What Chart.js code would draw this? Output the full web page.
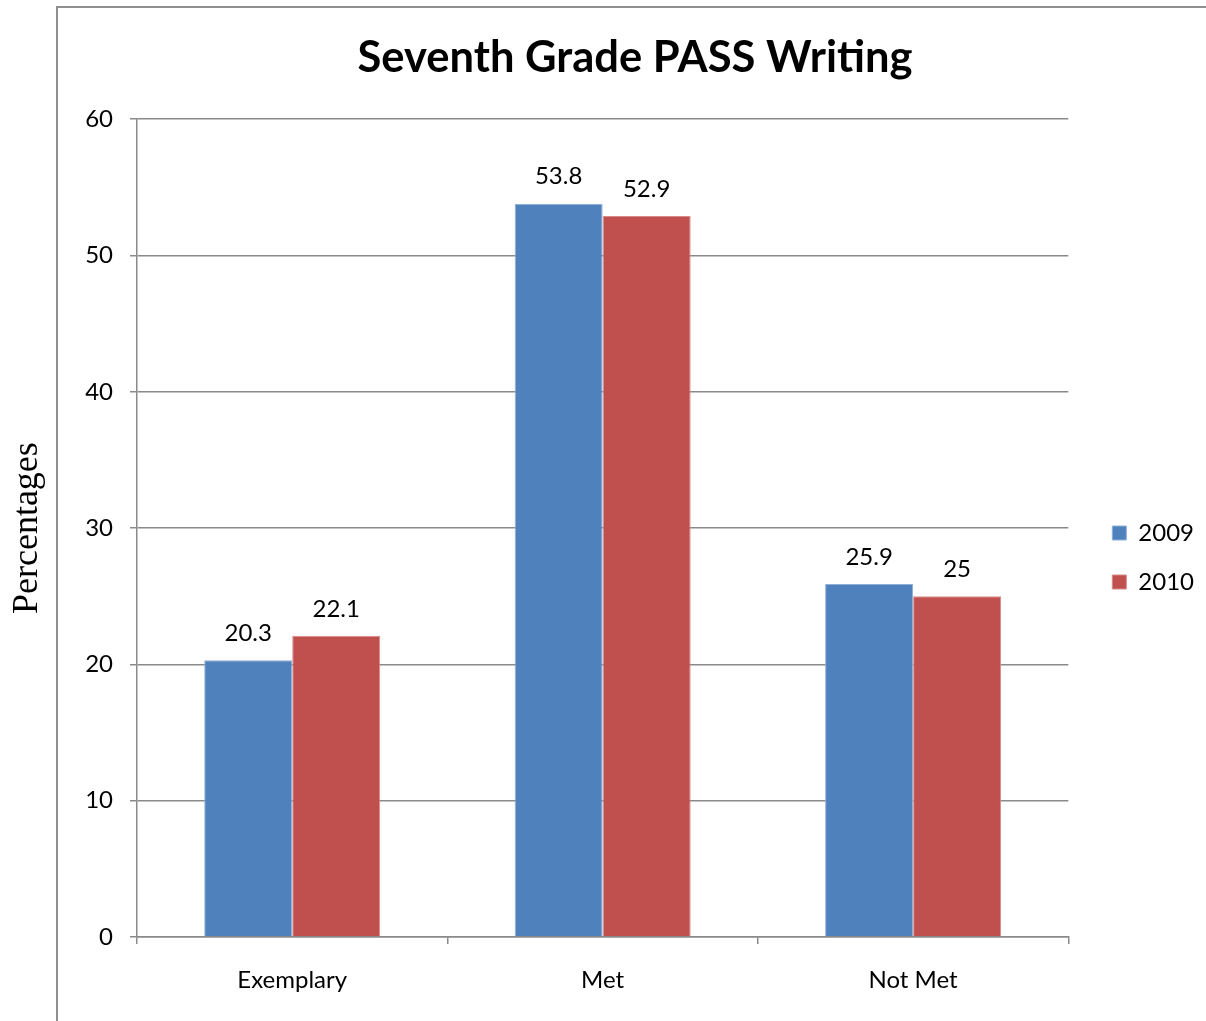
<!DOCTYPE html>
<html>
<head>
<meta charset="utf-8">
<script src="https://cdn.jsdelivr.net/npm/chart.js@4/dist/chart.umd.min.js"></script>
<style>
  body { margin: 0; background: #fff; }
  #frame { position: absolute; left: 56px; top: 6px; width: 1150px; height: 1100px;
           border-left: 2px solid #8f8f8f; border-top: 2px solid #8f8f8f; }
  #wrap { position: absolute; left: 0; top: 0; width: 1206px; height: 1021px; }
</style>
</head>
<body>
<div id="frame"></div>
<div id="wrap"><canvas id="c"></canvas></div>
<script>
const categories = ['Exemplary', 'Met', 'Not Met']
const series2009 = [20.3, 53.8, 25.9]
const series2010 = [22.1, 52.9, 25]
const seriesNames = ['2009', '2010']
const yTicks = [0, 10, 20, 30, 40, 50, 60]

const fontName = 'Lato, "Open Sans", sans-serif'
const gridGray = '#8a8a8a'

// value labels above each bar
const barLabels = {
  id: 'barLabels',
  afterDatasetsDraw(chart) {
    const ctx = chart.ctx
    ctx.save()
    ctx.font = '24px ' + fontName
    ctx.fillStyle = '#000'
    ctx.textAlign = 'center'
    ctx.textBaseline = 'middle'
    chart.data.datasets.forEach((ds, i) => {
      chart.getDatasetMeta(i).data.forEach((bar, j) => {
        ctx.fillText(String(ds.data[j]), bar.x, bar.y - 27)
      })
    })
    ctx.restore()
  }
}

new Chart(document.getElementById('c'), {
  type: 'bar',
  data: {
    labels: categories,
    datasets: [
      { label: seriesNames[0], data: series2009, backgroundColor: '#4F81BD', borderColor: '#8fb0d8', borderWidth: 1 },
      { label: seriesNames[1], data: series2010, backgroundColor: '#C0504D', borderColor: '#d88a88', borderWidth: 1 }
    ]
  },
  options: {
    responsive: true,
    maintainAspectRatio: false,
    animation: false,
    layout: { padding: { left: 66, right: 2, top: 0, bottom: 0 } },
    datasets: { bar: { categoryPercentage: 0.567, barPercentage: 1 } },
    plugins: {
      title: {
        display: true,
        text: 'Seventh Grade PASS Writing',
        color: '#000',
        font: { family: fontName, size: 43.5, weight: 'bold' },
        padding: { top: 32, bottom: 35 }
      },
      legend: {
        position: 'right',
        title: { display: true, text: '', font: { size: 10, lineHeight: 1 }, padding: { top: 0, bottom: 84 } },
        labels: {
          color: '#000',
          font: { family: fontName, size: 24 },
          boxWidth: 14,
          boxHeight: 14,
          padding: 25
        }
      },
      tooltip: { enabled: false }
    },
    scales: {
      x: {
        afterFit(scale) { scale.height = 84 },
        grid: { offset: true, drawOnChartArea: false, drawTicks: true, tickLength: 7, color: gridGray, lineWidth: 1.5 },
        border: { display: true, color: gridGray, width: 1.5 },
        ticks: { color: '#000', font: { family: fontName, size: 24 }, padding: 22 }
      },
      y: {
        min: 0,
        max: 60,
        afterFit(scale) { scale.width = 71 },
        afterBuildTicks(scale) { scale.ticks = yTicks.map(v => ({ value: v })) },
        grid: { color: gridGray, lineWidth: 1.5, tickLength: 7 },
        border: { display: true, color: gridGray, width: 1.5 },
        ticks: { color: '#000', font: { family: fontName, size: 24 }, padding: 17 },
        title: {
          display: true,
          text: 'Percentages',
          color: '#000',
          font: { family: '"Liberation Serif", serif', size: 36 },
          padding: { top: -59.6, bottom: 0 }
        }
      },
      // empty spacer between plot area and legend
      gap: {
        type: 'linear',
        position: 'right',
        afterFit(scale) { scale.width = 19 },
        grid: { display: false },
        border: { display: false },
        ticks: { display: false }
      }
    }
  },
  plugins: [barLabels]
})
</script>
</body>
</html>
